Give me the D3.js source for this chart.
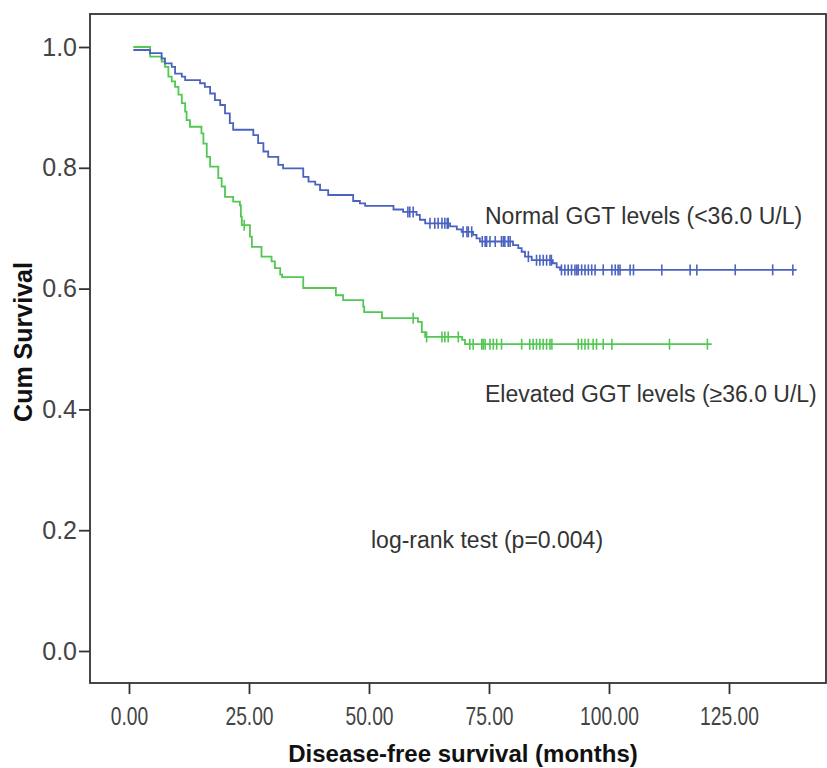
<!DOCTYPE html>
<html>
<head>
<meta charset="utf-8">
<script src="https://cdn.jsdelivr.net/npm/d3@7"></script>
<style>
  body { margin: 0; background: #fff; }
  text { font-family: "Liberation Sans", Arial, sans-serif; }
</style>
</head>
<body>
<div id="chart"></div>
<script>
// Normal GGT levels: step times (months) and survival after each step
var normalTimes = [0.9, 4.4, 6.8, 7.5, 8.9, 9.6, 11.0, 11.7, 14.8, 15.8, 16.9, 17.9, 19.0, 20.0, 21.0, 21.7,
  25.9, 26.9, 28.0, 29.0, 31.1, 32.1, 36.3, 37.4, 38.8, 39.8, 41.5, 46.7, 48.1, 49.2, 55.1, 57.1,
  59.9, 60.6, 61.7, 66.9, 68.3, 69.3, 71.7, 72.4, 73.1, 80.0, 81.1, 81.8, 82.5, 83.9, 88.3, 89.1, 89.8];
var normalSurv = [0.995, 0.990, 0.981, 0.973, 0.967, 0.956, 0.951, 0.945, 0.940, 0.934, 0.923, 0.912, 0.904, 0.890, 0.874, 0.863,
  0.854, 0.841, 0.827, 0.818, 0.805, 0.799, 0.785, 0.777, 0.772, 0.763, 0.755, 0.745, 0.741, 0.737, 0.731, 0.727,
  0.722, 0.714, 0.708, 0.703, 0.698, 0.694, 0.689, 0.683, 0.678, 0.672, 0.667, 0.661, 0.653, 0.647, 0.642, 0.635, 0.631];
var normalCensor = [58.1, 58.5, 59.2, 62.7, 63.7, 64.4, 65.2, 65.8, 66.3, 66.5, 69.6, 70.4, 70.7, 71.4,
  73.6, 74.2, 74.5, 75.2, 76.3, 77.6, 78.0, 78.3, 79.0, 79.4, 83.2, 84.9, 85.6, 86.3, 87.0, 87.7, 88.0,
  90.1, 90.8, 91.5, 92.2, 92.9, 93.3, 93.6, 94.3, 95.0, 95.7, 96.4, 97.1, 98.8, 100.6, 101.3, 101.9, 102.3,
  104.4, 105.1, 111.0, 116.9, 118.3, 126.3, 134.1, 138.3];
var normalEnd = 139.1;

// Elevated GGT levels
var elevatedTimes = [0.9, 4.4, 6.8, 7.5, 8.2, 8.9, 9.6, 10.3, 11.0, 11.7, 12.0, 12.7, 15.1, 15.5, 16.2, 16.9,
  18.6, 19.3, 20.0, 21.7, 23.1, 23.3, 23.5, 25.2, 25.6, 27.6, 29.7, 30.4, 31.5, 31.9, 36.3, 43.1, 44.6,
  48.8, 49.0, 52.7, 60.2, 61.0, 61.7, 69.4, 70.0];
var elevatedSurv = [1.0, 0.984, 0.976, 0.967, 0.951, 0.943, 0.934, 0.921, 0.907, 0.893, 0.879, 0.868, 0.857, 0.840, 0.818, 0.802,
  0.783, 0.769, 0.752, 0.744, 0.738, 0.719, 0.705, 0.686, 0.669, 0.653, 0.645, 0.634, 0.623, 0.619, 0.601, 0.589, 0.581,
  0.570, 0.561, 0.551, 0.545, 0.528, 0.520, 0.515, 0.508];
var elevatedCensor = [24.0, 59.2, 62.0, 65.2, 65.8, 66.5, 68.6, 71.0, 71.7, 73.5, 73.8, 74.2, 75.2, 75.9, 76.6, 77.6,
  81.8, 83.5, 84.2, 84.9, 85.6, 86.3, 87.0, 87.7, 88.1, 93.6, 94.3, 95.0, 95.7, 96.7, 97.4, 98.8, 100.6, 112.6, 120.5];
var elevatedEnd = 121.4;

var xTicks = [0, 25, 50, 75, 100, 125];
var yTicks = [0, 0.2, 0.4, 0.6, 0.8, 1.0];

var width = 827, height = 768;
var frame = {left: 90, right: 826, top: 14, bottom: 683};

var svg = d3.select("#chart").append("svg")
  .attr("width", width)
  .attr("height", height);

// scales (0 months at x=129, 125 months at x=729; 1.0 at y=47, 0.0 at y=651)
var x = d3.scaleLinear().domain([0, 125]).range([129, 729]);
var y = d3.scaleLinear().domain([0, 1]).range([651, 47]);

// frame
svg.append("rect")
  .attr("x", frame.left)
  .attr("y", frame.top)
  .attr("width", frame.right - frame.left)
  .attr("height", frame.bottom - frame.top)
  .attr("fill", "none")
  .attr("stroke", "#333")
  .attr("stroke-width", 1.8);

// y axis
var yAxis = svg.append("g")
  .attr("transform", "translate(" + frame.left + ",0)")
  .call(d3.axisLeft(y).tickValues(yTicks).tickFormat(d3.format(".1f")).tickSize(11).tickPadding(2));
yAxis.select(".domain").remove();
yAxis.selectAll("line").attr("stroke", "#333").attr("stroke-width", 1.8);
yAxis.selectAll("text")
  .attr("fill", "#444")
  .style("font-size", "25px")
  .style("font-family", "Liberation Sans, Arial, sans-serif");

// x axis (labels are condensed in the reference)
var xAxis = svg.append("g")
  .attr("transform", "translate(0," + frame.bottom + ")")
  .call(d3.axisBottom(x).tickValues(xTicks).tickFormat(d3.format(".2f")).tickSize(11).tickPadding(13));
xAxis.select(".domain").remove();
xAxis.selectAll("line").attr("stroke", "#333").attr("stroke-width", 1.8);
xAxis.selectAll("text")
  .attr("fill", "#444")
  .attr("transform", "scale(0.74,1)")
  .style("font-size", "26px")
  .style("font-family", "Liberation Sans, Arial, sans-serif");

// axis titles
svg.append("text")
  .attr("x", 463)
  .attr("y", 762)
  .attr("text-anchor", "middle")
  .style("font-size", "24px")
  .style("font-weight", "bold")
  .attr("fill", "#111")
  .text("Disease-free survival (months)");

svg.append("text")
  .attr("transform", "translate(32,342) rotate(-90)")
  .attr("text-anchor", "middle")
  .style("font-size", "25px")
  .style("font-weight", "bold")
  .attr("fill", "#111")
  .text("Cum Survival");

// step function helpers
function stepPoints(times, surv, end) {
  var pts = [[times[0], surv[0]]];
  for (var i = 1; i < times.length; i++) {
    pts.push([times[i], surv[i - 1]]);
    pts.push([times[i], surv[i]]);
  }
  pts.push([end, surv[surv.length - 1]]);
  return pts;
}
function survAt(times, surv, t) {
  var i = d3.bisectRight(times, t) - 1;
  return surv[Math.max(i, 0)];
}

var line = d3.line()
  .x(function(d) { return x(d[0]); })
  .y(function(d) { return y(d[1]); });

var groups = [
  {times: elevatedTimes, surv: elevatedSurv, censor: elevatedCensor, end: elevatedEnd, color: "#52c752"},
  {times: normalTimes, surv: normalSurv, censor: normalCensor, end: normalEnd, color: "#4a63c0"}
];

groups.forEach(function(g) {
  svg.append("path")
    .datum(stepPoints(g.times, g.surv, g.end))
    .attr("d", line)
    .attr("fill", "none")
    .attr("stroke", g.color)
    .attr("stroke-width", 1.8);

  svg.selectAll(null)
    .data(g.censor)
    .enter()
    .append("line")
    .attr("x1", function(d) { return x(d); })
    .attr("x2", function(d) { return x(d); })
    .attr("y1", function(d) { return y(survAt(g.times, g.surv, d)) - 5.5; })
    .attr("y2", function(d) { return y(survAt(g.times, g.surv, d)) + 5.5; })
    .attr("stroke", g.color)
    .attr("stroke-width", 1.6);
});

// annotations
var notes = [
  {text: "Normal GGT levels (<36.0 U/L)", x: 485, y: 224},
  {text: "Elevated GGT levels (\u226536.0 U/L)", x: 485, y: 402},
  {text: "log-rank test (p=0.004)", x: 371, y: 548}
];
svg.selectAll(".note")
  .data(notes)
  .enter()
  .append("text")
  .attr("class", "note")
  .attr("x", function(d) { return d.x; })
  .attr("y", function(d) { return d.y; })
  .attr("fill", "#333")
  .style("font-size", "23px")
  .text(function(d) { return d.text; });
</script>
</body>
</html>
